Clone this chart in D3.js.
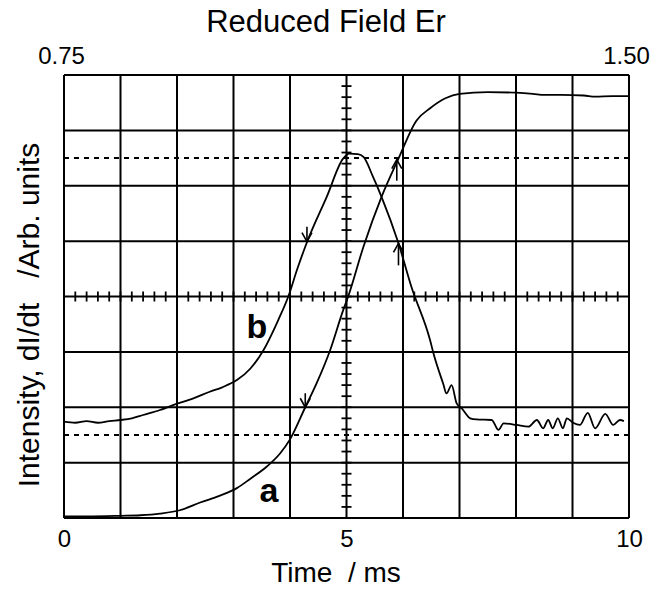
<!DOCTYPE html>
<html>
<head>
<meta charset="utf-8">
<script src="https://cdn.jsdelivr.net/npm/d3@7"></script>
<style>
  body { margin: 0; background: #fff; }
  svg text { font-family: "Liberation Sans", Arial, sans-serif; fill: #000; }
</style>
</head>
<body>
<div id="chart"></div>
<script>
// curve a: integrated intensity (time in ms, value in grid divisions)
const timeA = [0, 0.5, 1.0, 1.35, 1.7, 2.05, 2.41, 2.75, 3.06, 3.3, 3.59, 3.82, 4.0, 4.27, 4.47, 4.71, 4.94, 5.03,
  5.3, 5.62, 5.92, 6.24, 6.48, 6.75, 7.0, 7.5, 8.0, 8.3, 8.5, 8.8, 9.2, 9.4, 9.7, 10.0];
const valueA = [0.03, 0.03, 0.04, 0.05, 0.08, 0.14, 0.28, 0.4, 0.54, 0.71, 0.93, 1.16, 1.42, 2.0, 2.43, 3.03, 3.75, 4.0,
  4.9, 5.8, 6.49, 7.18, 7.4, 7.58, 7.66, 7.69, 7.68, 7.66, 7.64, 7.64, 7.63, 7.61, 7.62, 7.62];

// curve b: derivative dI/dt
const timeB = [0, 0.2, 0.4, 0.6, 0.8, 1.0, 1.2, 1.4, 1.7, 1.93, 2.29, 2.58, 2.8, 3.06, 3.3, 3.53, 3.79,
  3.97, 4.13, 4.3, 4.65, 4.94, 5.05, 5.2, 5.3, 5.47, 5.62, 5.92, 6.15, 6.48, 6.54, 6.71, 6.77, 6.86, 6.95, 7.04,
  7.19, 7.3, 7.57, 7.69, 7.78, 8.01, 8.22, 8.37, 8.48, 8.57, 8.65, 8.74, 8.83, 8.9, 9.01, 9.13, 9.27,
  9.4, 9.58, 9.72, 9.84, 9.91];
const valueB = [1.74, 1.72, 1.75, 1.72, 1.75, 1.77, 1.8, 1.86, 1.95, 2.04, 2.16, 2.28, 2.36, 2.49, 2.7, 3.03, 3.57,
  4.0, 4.5, 4.98, 5.8, 6.49, 6.58, 6.57, 6.52, 6.16, 5.8, 4.96, 4.17, 3.21, 2.97, 2.43, 2.25, 2.4, 2.07, 1.98,
  1.8, 1.78, 1.77, 1.59, 1.71, 1.68, 1.65, 1.77, 1.62, 1.77, 1.62, 1.8, 1.62, 1.8, 1.72, 1.68, 1.9,
  1.62, 1.88, 1.68, 1.77, 1.75];

// arrows on curves: time, value at tip, direction
const arrowT = [4.3, 5.92, 4.27, 5.89];
const arrowV = [4.99, 4.96, 2.0, 6.47];
const arrowDir = ["down", "up", "down", "up"];
const arrowLen = [15, 22, 14, 21];

const dashedLevels = [6.5, 1.5];
const bottomTicks = [0, 5, 10];
const topTicks = [0.75, 1.50];

const W = 650, H = 589;
const svg = d3.select("#chart").append("svg").attr("width", W).attr("height", H);

const x = d3.scaleLinear().domain([0, 10]).range([64, 629]);
const y = d3.scaleLinear().domain([0, 8]).range([518, 75]);
const xr = d3.scaleLinear().domain([0.75, 1.5]).range([64, 629]);

// grid
const grid = svg.append("g").attr("stroke", "#000").attr("stroke-width", 2);
grid.selectAll(".vline").data(x.ticks(10)).enter().append("line")
  .attr("x1", d => x(d)).attr("x2", d => x(d)).attr("y1", y(0)).attr("y2", y(8));
grid.selectAll(".hline").data(y.ticks(8)).enter().append("line")
  .attr("y1", d => y(d)).attr("y2", d => y(d)).attr("x1", x(0)).attr("x2", x(10));

// dashed reference levels
svg.append("g").selectAll("line").data(dashedLevels).enter().append("line")
  .attr("x1", x(0)).attr("x2", x(10))
  .attr("y1", d => y(d)).attr("y2", d => y(d))
  .attr("stroke", "#000").attr("stroke-width", 2).attr("stroke-dasharray", "5,5");

// minor ticks on centre lines
const minor = svg.append("g").attr("stroke", "#000").attr("stroke-width", 1.8);
minor.selectAll(".mx").data(d3.range(1, 50)).enter().append("line")
  .attr("x1", d => x(d * 0.2)).attr("x2", d => x(d * 0.2))
  .attr("y1", y(4) - 5).attr("y2", y(4) + 5);
minor.selectAll(".my").data(d3.range(1, 40)).enter().append("line")
  .attr("y1", d => y(d * 0.2)).attr("y2", d => y(d * 0.2))
  .attr("x1", x(5) - 5).attr("x2", x(5) + 5);

// curves
const line = d3.line().x(d => x(d[0])).y(d => y(d[1])).curve(d3.curveMonotoneX);
svg.append("path").datum(timeA.map((t, i) => [t, valueA[i]]))
  .attr("d", line).attr("fill", "none").attr("stroke", "#000").attr("stroke-width", 1.8);
svg.append("path").datum(timeB.map((t, i) => [t, valueB[i]]))
  .attr("d", line).attr("fill", "none").attr("stroke", "#000").attr("stroke-width", 1.8);

// arrows
arrowT.forEach((t, i) => {
  const px = x(t), py = y(arrowV[i]);
  const s = arrowDir[i] === "down" ? -1 : 1;
  const g = svg.append("g").attr("stroke", "#000").attr("stroke-width", 1.6).attr("fill", "none");
  g.append("line").attr("x1", px).attr("x2", px).attr("y1", py).attr("y2", py + s * arrowLen[i]);
  g.append("path").attr("d", `M${px - 5},${py + s * 9}L${px},${py}L${px + 5},${py + s * 9}`);
});

// curve labels
svg.append("text").attr("x", 257).attr("y", 338).attr("text-anchor", "middle")
  .style("font-size", "34px").style("font-weight", "bold").text("b");
svg.append("text").attr("x", 269).attr("y", 502).attr("text-anchor", "middle")
  .style("font-size", "34px").style("font-weight", "bold").text("a");

// bottom axis
const xAxis = svg.append("g").attr("transform", `translate(0,${y(0)})`)
  .call(d3.axisBottom(x).tickValues(bottomTicks).tickSize(0).tickPadding(12).tickFormat(d3.format("d")));
xAxis.select(".domain").remove();
xAxis.selectAll("text").style("font-size", "24px").attr("dy", "0.71em");

// top axis (labels centred on the plot edges)
const topAxis = svg.append("g").attr("transform", `translate(0,${y(8)})`)
  .call(d3.axisTop(xr).tickValues(topTicks).tickSize(0).tickPadding(11).tickFormat(d3.format(".2f")));
topAxis.select(".domain").remove();
topAxis.selectAll("text").style("font-size", "24px").attr("x", -3);

// titles
svg.append("text").attr("x", 326).attr("y", 32).attr("text-anchor", "middle")
  .style("font-size", "31px").text("Reduced Field Er");
svg.append("text").attr("x", 336).attr("y", 582).attr("text-anchor", "middle")
  .style("font-size", "28px").attr("xml:space", "preserve").text("Time  / ms");
svg.append("text").attr("transform", "translate(39,315) rotate(-90)").attr("text-anchor", "middle")
  .style("font-size", "30px").attr("xml:space", "preserve").text("Intensity, dI/dt   /Arb. units");
</script>
</body>
</html>
